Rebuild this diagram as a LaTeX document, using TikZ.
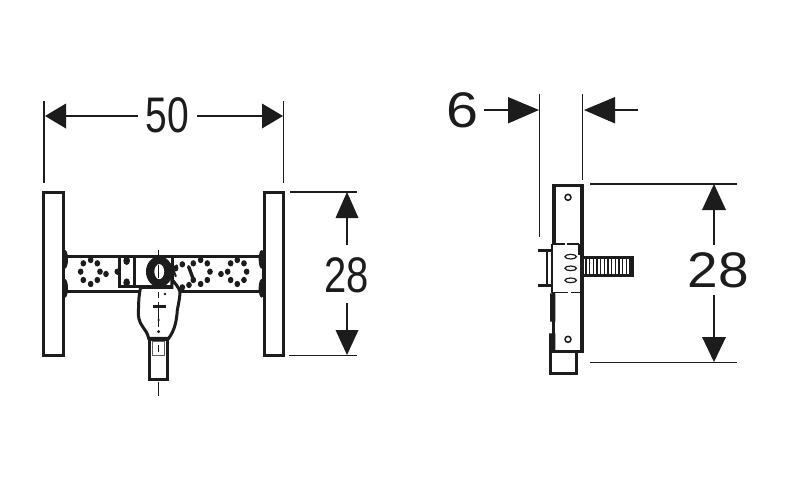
\documentclass[tikz,border=0pt]{standalone}
\usepackage{fontspec}
\setmainfont{Liberation Sans}
\definecolor{ink}{HTML}{1C1C1C}
\tikzset{
  dimline/.style={draw=ink,line width=1.2pt},
  thick part/.style={draw=ink,line width=3pt,fill=white,line join=miter},
  solid head/.style={fill=ink,draw=none},
  numlabel/.style={text=ink,inner sep=0pt,font=\fontsize{50}{50}\selectfont}
}
\begin{document}
\begin{tikzpicture}[x=1pt,y=-1pt]
\useasboundingbox (0,0) rectangle (800,493);
\fill[white] (0,0) rectangle (800,493);

% ===== left view: dimensions =====
\coordinate (a1) at (44,101); \coordinate (a2) at (44,183);
\coordinate (b1) at (283.5,101); \coordinate (b2) at (283.5,183);
\draw[dimline] (a1)--(a2) (b1)--(b2);
\fill[solid head] (45,116)--(66,103.5)--(66,128.5)--cycle;
\fill[solid head] (283,116)--(262,103.5)--(262,128.5)--cycle;
\draw[dimline] (66,116)--(138,116) (197,116)--(262,116);
\node[numlabel,xscale=.78] (n50) at (167.5,115) {50};

\draw[dimline] (290,192)--(357,192) (289,355.5)--(357,355.5);
\fill[solid head] (347,192)--(335.5,218)--(358.5,218)--cycle;
\fill[solid head] (347,355)--(335.5,330)--(358.5,330)--cycle;
\draw[dimline] (347,218)--(347,245) (347,303)--(347,330);
\node[numlabel,xscale=.8] (n28a) at (346.5,275) {28};

% ===== left view: part, in zoom coordinates =====
\begin{scope}[shift={(30,230)},x=0.3333pt,y=-0.3333pt]
  % bar
  \draw[thick part] (100,78) rectangle (700,185);
  % clamps
  \foreach \cx in {105,695}{
    \fill[ink] (\cx,88) ellipse (9 and 28);
    \fill[ink] (\cx,175) ellipse (9 and 28);
  }
  % plates
  \draw[thick part] (42,-114) rectangle (100,378);
  \draw[thick part] (704,-114) rectangle (761,378);
  % perforation dots
  \foreach \dx/\dy in {160/100,182/90,202/100,210/125,228/132,202/150,182/162,160/150,152/125,262/125,
    457/103,490/100,512/90,532/100,540/125,532/150,512/162,490/150,477/165,457/172,437/115,
    602/100,622/90,642/100,650/125,642/150,622/162,602/150,593/125,573/132}
    \fill[ink] (\dx,\dy) ellipse (8.5 and 9.5);
  \draw[ink,line width=3.4pt,line cap=round] (476,110)--(490,148);
  % clip boxes
  \draw[thick part] (270,80) rectangle (315,170);
  \fill[ink] (290,92) ellipse (10 and 13) (290,158) ellipse (10 and 13);
  \draw[thick part] (315,80) rectangle (428,170);
  % body
  \draw[thick part] (332,172) .. controls (325,200) and (326,230) .. (325,255)
     .. controls (328,290) and (350,295) .. (356,325) -- (416,325)
     .. controls (435,300) and (440,270) .. (442,240)
     .. controls (446,220) and (450,200) .. (450,185)
     .. controls (445,170) and (435,160) .. (426,148) -- (426,172) -- cycle;
  % lower tube
  \draw[thick part] (360,328) rectangle (412,450);
  \draw[draw=ink!70,line width=.7pt] (368,335) rectangle (403,375);
  % ring
  \fill[ink,even odd rule] (388,125) ellipse (40 and 46) (388,125) ellipse (15 and 23);
  \draw[ink,line width=2pt] (418,135)--(442,105) (422,100)--(438,140);
  % centre line
  \draw[ink,line width=1.1pt] (386,60)--(386,78) (386,105)--(386,145) (386,185)--(386,205)
     (386,215)--(386,290) (386,345)--(386,365) (386,455)--(386,498);
  \draw[ink,line width=2.4pt] (368,230)--(408,230);
  \fill[ink] (405,192) circle (4) (386,270) circle (4) (386,305) circle (5);
\end{scope}

% ===== right view: dimensions =====
\coordinate (c1) at (539.7,94); \coordinate (c2) at (539.7,237);
\coordinate (d1) at (582.5,94); \coordinate (d2) at (582.5,180);
\draw[dimline] (c1)--(c2) (d1)--(d2);
\fill[solid head] (539,110)--(508,97)--(508,123.5)--cycle;
\fill[solid head] (584,110)--(615,97)--(615,123.5)--cycle;
\draw[dimline] (484,110)--(508,110) (615,110)--(638,110);
\node[numlabel,xscale=1.15] (n6) at (462,110) {6};

\draw[dimline] (590,184)--(737,184) (590,362.5)--(737,362.5);
\fill[solid head] (714,184)--(702,210)--(726,210)--cycle;
\fill[solid head] (714,362)--(702,337)--(726,337)--cycle;
\draw[dimline] (714,210)--(714,245) (714,295)--(714,337);
\node[numlabel,xscale=1.1] (n28b) at (718,270) {28};

% ===== right view: part, in zoom coordinates =====
\begin{scope}[shift={(520,170)},x=0.3333pt,y=-0.3333pt]
  % thread
  \draw[thick part] (187,262) -- (337,262) -- (337,316) -- (187,316) -- cycle;
  \foreach \hx in {198,209,...,330}
    \draw[ink,line width=1.3pt] (\hx,262)--(\hx,316);
  % bottom box
  \draw[thick part] (90,545) rectangle (168,612);
  % plate
  \draw[thick part] (101,45) rectangle (186,545);
  \fill[ink] (99,45) rectangle (107,222);
  \fill[ink] (180,45) rectangle (190,545);
  \fill[ink] (90,370) rectangle (106,455) (87,490) rectangle (106,545);
  \fill[ink] (99,455) rectangle (106,490);
  % bracket
  \draw[ink,line width=2.6pt] (55,242)--(95,242) (55,347)--(95,347);
  \draw[ink,line width=2pt] (82,242)--(82,347);
  \draw[ink,line width=2pt] (95,222)--(95,370);
  % white inner of the middle section
  \fill[white] (99,224) rectangle (105,366);
  % holes
  \draw[ink,line width=1.5pt,fill=white] (144,82) circle (9) (144,508) circle (9);
  \draw[ink,line width=1.2pt,fill=white] (152,260) ellipse (17 and 7)
     (152,295) ellipse (17 and 7) (152,331) ellipse (17 and 7);
  % dashes
  \draw[ink,line width=1.3pt,dash pattern=on 13pt off 2.5pt] (95,222)--(178,222);
  \draw[ink,line width=1.3pt,dash pattern=on 13pt off 3pt] (105,368)--(180,368);
  \draw[ink,line width=2pt] (176,222)--(176,255);
\end{scope}
\end{tikzpicture}
\end{document}
